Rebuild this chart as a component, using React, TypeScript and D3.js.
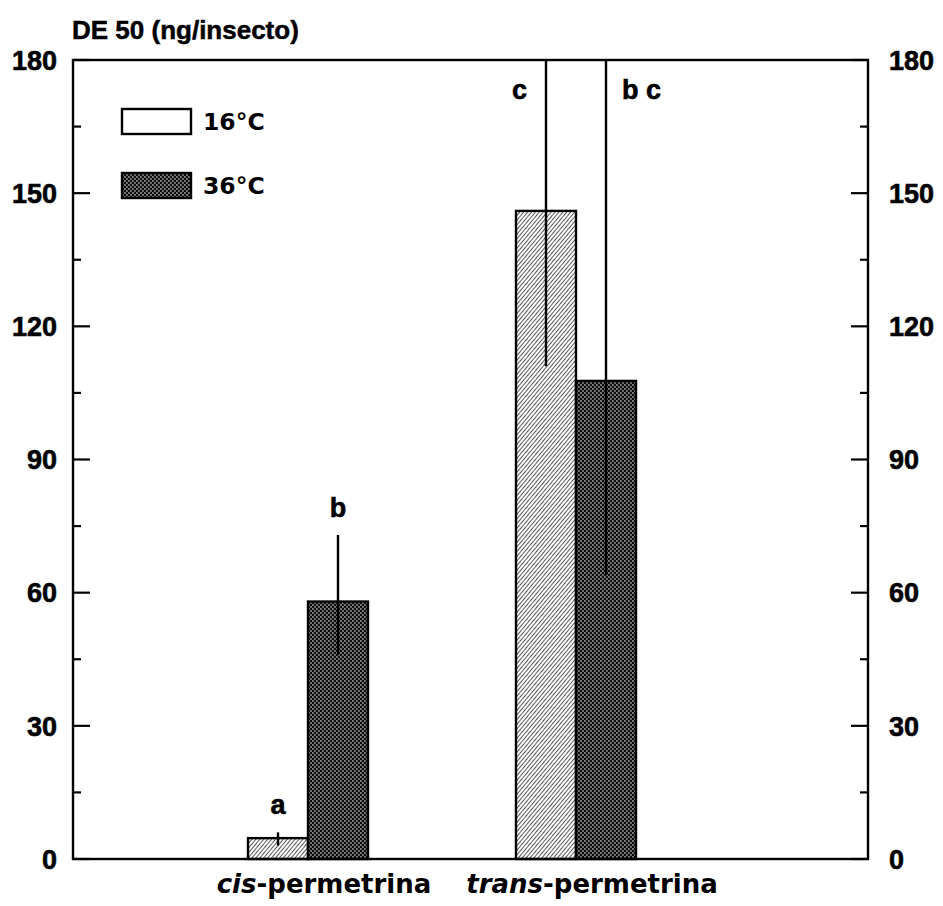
import React from "react";
import * as d3 from "d3";

const categories = ["cis", "trans"];
const seriesNames = ["16°C", "36°C"];
const values16 = [4.7, 146];
const values36 = [58, 107.7];
const lower16 = [3, 111];
const upper16 = [6, 200];
const lower36 = [46, 64];
const upper36 = [73, 200];
const letters16 = ["a", "c"];
const letters36 = ["b", "b c"];
const yTicks = [0, 30, 60, 90, 120, 150, 180];
const yMinorTicks = [15, 45, 75, 105, 135, 165];

const W = 943, H = 906;
const L = 73, R = 868, T = 60, B = 859;
const FONT = "'Liberation Sans', Arial, Helvetica, sans-serif";
const WIDE = "'DejaVu Sans', sans-serif";

export default function App() {
  const y = d3.scaleLinear().domain([0, 180]).range([B, T]);
  const x = d3.scalePoint().domain(categories).range([L + 235, L + 503]);
  const barW = 60;
  const series = [
    { name: seriesNames[0], values: values16, lo: lower16, hi: upper16, letters: letters16, fill: "url(#hatch)" },
    { name: seriesNames[1], values: values36, lo: lower36, hi: upper36, letters: letters36, fill: "url(#checker)" },
  ];
  const clip = (v: number) => Math.min(v, 180);

  return (
    <svg width={W} height={H} style={{ position: "absolute", left: 0, top: 0, background: "#fff" }} fontFamily={FONT} fontWeight="bold">
      <defs>
        <pattern id="hatch" width="3" height="3" patternUnits="userSpaceOnUse" patternTransform="rotate(40)">
          <rect width="3" height="3" fill="#fff" />
          <rect x="0" y="0" width="0.9" height="3" fill="#444" />
        </pattern>
        <pattern id="checker" width="4" height="4" patternUnits="userSpaceOnUse">
          <rect width="4" height="4" fill="#0a0a0a" />
          <rect x="0.3" y="0.3" width="1.3" height="1.3" fill="#fff" />
          <rect x="2.3" y="2.3" width="1.3" height="1.3" fill="#fff" />
        </pattern>
      </defs>

      {/* bars */}
      {series.map((s, si) =>
        categories.map((c, ci) => {
          const x0 = (x(c) as number) - barW + si * barW;
          const top = y(s.values[ci]);
          return (
            <rect key={`b${si}${ci}`} x={x0} y={top} width={barW} height={B - top}
              fill={s.fill} stroke="#000" strokeWidth={2.4} />
          );
        })
      )}

      {/* error bars and letters */}
      {series.map((s, si) =>
        categories.map((c, ci) => {
          const cx = (x(c) as number) - barW + si * barW + barW / 2;
          const clipped = s.hi[ci] > 180;
          const yTop = y(clip(s.hi[ci]));
          let lx = cx, ly = yTop - 18, anchor = "middle";
          if (clipped) {
            ly = T + 39;
            if (si === 0) { lx = cx - 19; anchor = "end"; } else { lx = cx + 16; anchor = "start"; }
          }
          return (
            <g key={`e${si}${ci}`}>
              <line x1={cx} x2={cx} y1={yTop} y2={y(s.lo[ci])} stroke="#000" strokeWidth={2.4} />
              <text x={lx} y={ly} textAnchor={anchor} fontSize={27} stroke="#000" strokeWidth={0.6}>{s.letters[ci]}</text>
            </g>
          );
        })
      )}

      {/* frame */}
      <rect x={L} y={T} width={R - L} height={B - T} fill="none" stroke="#000" strokeWidth={2.4} />

      {/* ticks */}
      {yTicks.map((t) => (
        <g key={`t${t}`}>
          <line x1={L} x2={L + 17} y1={y(t)} y2={y(t)} stroke="#000" strokeWidth={2.2} />
          <line x1={R} x2={R - 17} y1={y(t)} y2={y(t)} stroke="#000" strokeWidth={2.2} />
          <text x={L - 16} y={y(t)} dy="0.36em" textAnchor="end" fontSize={27} stroke="#000" strokeWidth={0.6}>{t}</text>
          <text x={R + 21} y={y(t)} dy="0.36em" textAnchor="start" fontSize={27} stroke="#000" strokeWidth={0.6}>{t}</text>
        </g>
      ))}
      {yMinorTicks.map((t) => (
        <g key={`m${t}`}>
          <line x1={L} x2={L + 8} y1={y(t)} y2={y(t)} stroke="#000" strokeWidth={2.2} />
          <line x1={R} x2={R - 8} y1={y(t)} y2={y(t)} stroke="#000" strokeWidth={2.2} />
        </g>
      ))}

      {/* title */}
      <text x={L - 1} y={T - 21} fontSize={26} stroke="#000" strokeWidth={0.5}>DE 50 (ng/insecto)</text>

      {/* category labels */}
      {categories.map((c) => (
        <text key={`c${c}`} x={(x(c) as number) + 16} y={B + 34} textAnchor="middle" fontSize={26} fontFamily={WIDE}>
          <tspan fontStyle="italic">{c}</tspan>
          <tspan>-permetrina</tspan>
        </text>
      ))}

      {/* legend */}
      {series.map((s, i) => (
        <g key={`l${i}`} transform={`translate(0, ${i * 64})`}>
          <rect x={122} y={109} width={69} height={25}
            fill={i === 0 ? "#fff" : s.fill} stroke="#000" strokeWidth={2.4} />
          <text x={203} y={121.5} dy="0.36em" fontSize={23.5} fontFamily={WIDE}>{s.name}</text>
        </g>
      ))}
    </svg>
  );
}
